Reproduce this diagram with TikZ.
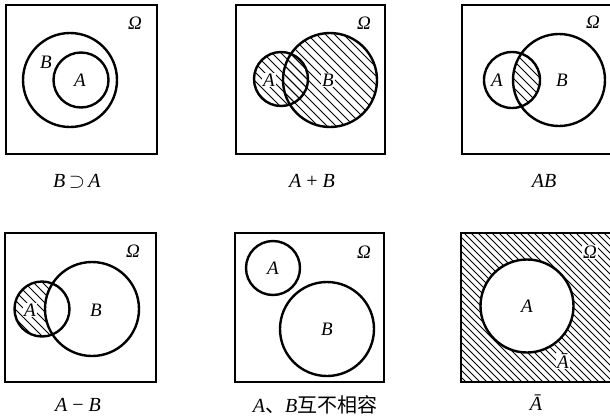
\documentclass[tikz,border=0pt]{standalone}
\usepackage{fontspec}
\setmainfont{Liberation Serif}
\newfontfamily\cjk{Noto Sans CJK SC}
\newcommand\hatchgrid[1]{\foreach \c in {-420,#1,...,620} \draw[hatchline] (\c,0) -- (\c+418,418);}
\begin{document}
\begin{tikzpicture}[x=1pt,y=-1pt,
  frame/.style={line width=1.5pt},
  ring/.style={line width=2.4pt},
  hatchline/.style={line width=0.8pt},
  lab/.style={font=\fontsize{19}{19}\selectfont\itshape, inner sep=1pt},
  captxt/.style={font=\fontsize{20}{20}\selectfont},
  om/.style={font=\fontsize{19}{19}\selectfont\itshape, inner sep=1pt}]
\clip (0,0) rectangle (610,418);
\fill[white] (0,0) rectangle (610,418);

% ---------- Panel 1: B contains A
\draw[frame] (6,5) rectangle (157,154);
\draw[ring] (70,80) circle (47);
\draw[ring] (81,80) circle (27.5);
\node[om] (om1) at (135,23) {Ω};
\node[lab] (b1) at (46,62) {B};
\node[lab] (a1) at (80,80) {A};
\node[captxt] (c1) at (77,181) {\textit{B}$\,\supset\,$\textit{A}};

% ---------- Panel 2: A+B
\begin{scope}
  \clip (281,79) circle (27);
  \hatchgrid{-411}
\end{scope}
\begin{scope}
  \clip (330,80) circle (47);
  \hatchgrid{-411}
\end{scope}
\draw[frame] (236,5) rectangle (385,154);
\draw[ring] (281,79) circle (27);
\draw[ring] (330,80) circle (47);
\node[om] (om2) at (364,23) {Ω};
\node[lab, fill=white] (a2) at (269,80) {A};
\node[lab, fill=white] (b2) at (328,80) {B};
\node[captxt] (c2) at (312,181) {\textit{A} + \textit{B}};

% ---------- Panel 3: AB
\begin{scope}
  \clip (512,80) circle (28);
  \clip (559,80) circle (46);
  \hatchgrid{-411}
\end{scope}
\draw[frame] (462,5) rectangle (640,154);
\draw[ring] (512,80) circle (28);
\draw[ring] (559,80) circle (46);
\node[om] (om3) at (593,22) {Ω};
\node[lab] (a3) at (497,80) {A};
\node[lab] (b3) at (562,80) {B};
\node[captxt] (c3) at (544,181) {\textit{AB}};

% ---------- Panel 4: A-B
\begin{scope}
  \clip (42,309) circle (27.5);
  \hatchgrid{-411}
  \fill[white] (92,309) circle (47);
\end{scope}
\draw[frame] (5,233) rectangle (156,382);
\draw[ring] (42,309) circle (27.5);
\draw[ring] (92,309) circle (47);
\node[om] (om4) at (133,251) {Ω};
\node[lab, fill=white] (a4) at (30,310) {A};
\node[lab] (b4) at (96,310) {B};
\node[captxt] (c4) at (78,405) {\textit{A} − \textit{B}};

% ---------- Panel 5: disjoint
\draw[frame] (235,233) rectangle (384,382);
\draw[ring] (273,268) circle (27);
\draw[ring] (327,329) circle (47);
\node[om] (om5) at (364,252) {Ω};
\node[lab] (a5) at (273,268) {A};
\node[lab] (b5) at (327,329) {B};
\node[captxt] (c5) at (315,405) {\textit{A}{\cjk 、}\textit{B}{\cjk 互不相容}};

% ---------- Panel 6: complement
\begin{scope}
  \clip (461,233) rectangle (640,382);
  \hatchgrid{-413}
  \fill[white] (527,306) circle (46.5);
\end{scope}
\draw[frame] (461,233) rectangle (640,382);
\draw[ring] (527,306) circle (46.5);
\node[om, fill=white] (om6) at (590,252) {Ω};
\node[lab] (a6) at (527,306) {A};
\node[lab, fill=white] (ab6) at (563,361) {Ā};
\node[captxt] (c6) at (536,403) {\textit{Ā}};
\end{tikzpicture}
\end{document}
